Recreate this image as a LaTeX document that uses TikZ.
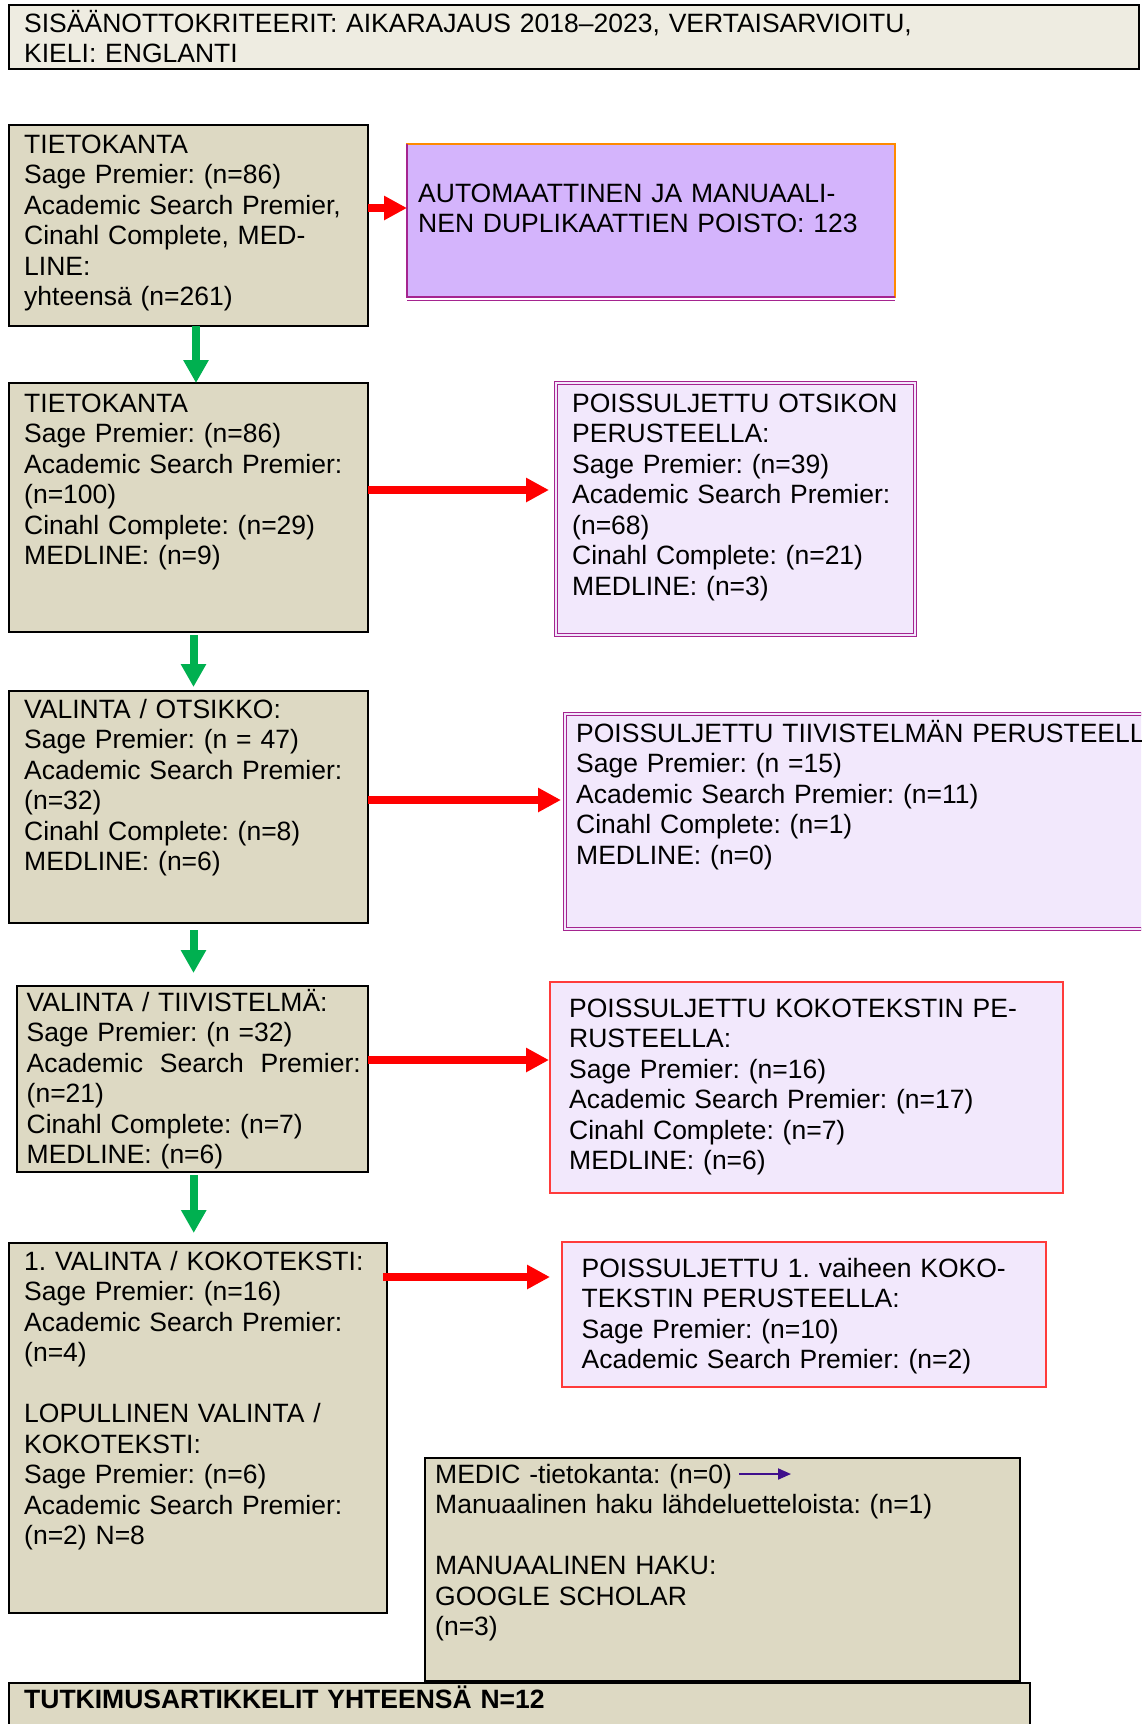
\documentclass[tikz,border=0pt]{standalone}
\usepackage{fontspec}
\setmainfont{Liberation Sans}
\usetikzlibrary{positioning,arrows.meta,calc}
\definecolor{tanfill}{HTML}{DDD9C3}
\definecolor{paper}{HTML}{EEECE1}
\definecolor{lavfill}{HTML}{F2E8FC}
\definecolor{lilac}{HTML}{D4B4FC}
\definecolor{plum}{HTML}{A5248F}
\definecolor{tangerine}{HTML}{FF8A00}
\definecolor{arrred}{HTML}{FF0000}
\definecolor{arrgreen}{HTML}{00B050}
\definecolor{indigo}{HTML}{3F0F8C}
\definecolor{softred}{HTML}{FF3B3B}

\begin{document}
\begin{tikzpicture}[
    x=1pt, y=-1pt,
    box/.style ={
        rectangle,
        anchor=north west,
        inner sep=0pt,
        outer sep=0pt
    },
    tan/.style ={
        box,
        fill=tanfill,
        draw=black,
        line width=2pt
    },
    lav/.style ={
        box,
        fill=lavfill,
        draw=plum,
        double=lavfill,
        double distance=2pt,
        line width=1.3pt
    },
    rdbox/.style ={
        box,
        fill=lavfill,
        draw=softred,
        line width=1.5pt
    },
    txt/.style ={
        anchor=base west,
        inner sep=0pt,
        align=left,
        text width=#1,
        font=\fontsize{26.5}{30.5}\selectfont\frenchspacing
    },
    txt/.default=340pt,
    gr/.style ={
        draw=arrgreen,
        line width=8pt,
        -{Triangle[length=23pt,width=24pt]}
    },
    rd/.style ={
        draw=arrred,
        line width=8pt,
        -{Triangle[length=23pt,width=23pt]}
    }
    ]
    \useasboundingbox (0,0) rectangle (1141,1724);
    \clip (0,0) rectangle (1141,1724);

    \node[tan, fill=paper, minimum width=1130pt, minimum height=64pt] (crit) at (9,5) {};
    \node[txt=1100pt] (crit-t) at ($(crit.north west)+(15,27)$)
        {SISÄÄNOTTOKRITEERIT: AIKARAJAUS 2018–2023, VERTAISARVIOITU,\\KIELI: ENGLANTI};

    \node[tan, minimum width=359pt, minimum height=201pt] (b1) at (9,125) {};
    \node[txt] (b1-t) at ($(b1.north west)+(15,28)$)
        {TIETOKANTA\\Sage Premier: (n=86)\\Academic Search Premier,\\Cinahl Complete, MED-\\LINE:\\yhteensä (n=261)};

    \node[box, fill=lilac, draw=tangerine, line width=2.5pt, minimum width=488pt, minimum height=153pt] (auto) at (407,144) {};
    \draw[plum, line width=2.5pt] (auto.north west) -- (auto.south west) -- (auto.south east);
    \draw[plum, line width=1.3pt] ([yshift=-3.5pt]auto.south west) -- ([yshift=-3.5pt]auto.south east);
    \node[txt=460pt] (auto-t) at ($(auto.north west)+(11,58)$)
        {AUTOMAATTINEN JA MANUAALI-\\NEN DUPLIKAATTIEN POISTO: 123};

    \node[tan, minimum width=359pt, minimum height=249pt] (b2) at (9,383) {};
    \node[txt] (b2-t) at ($(b2.north west)+(15,29)$)
        {TIETOKANTA\\Sage Premier: (n=86)\\Academic Search Premier:\\(n=100)\\Cinahl Complete: (n=29)\\MEDLINE: (n=9)};

    \node[lav, minimum width=359pt, minimum height=252pt] (ex1) at (556,383) {};
    \node[txt] (ex1-t) at ($(ex1.north west)+(16,29)$)
        {POISSULJETTU OTSIKON\\PERUSTEELLA:\\Sage Premier: (n=39)\\Academic Search Premier:\\(n=68)\\Cinahl Complete: (n=21)\\MEDLINE: (n=3)};

    \node[tan, minimum width=359pt, minimum height=232pt] (b3) at (9,691) {};
    \node[txt] (b3-t) at ($(b3.north west)+(15,27)$)
        {VALINTA / OTSIKKO:\\Sage Premier: (n = 47)\\Academic Search Premier:\\(n=32)\\Cinahl Complete: (n=8)\\MEDLINE: (n=6)};

    \node[lav, minimum width=620pt, minimum height=215pt] (ex2) at (565,714) {};
    \node[txt=700pt] (ex2-t) at ($(ex2.north west)+(11,28)$)
        {POISSULJETTU TIIVISTELMÄN PERUSTEELLA:\\Sage Premier: (n =15)\\Academic Search Premier: (n=11)\\Cinahl Complete: (n=1)\\MEDLINE: (n=0)};

    \node[tan, minimum width=351pt, minimum height=186pt] (b4) at (16.5,986) {};
    \node[txt] (b4-t) at ($(b4.north west)+(10,25)$)
        {VALINTA / TIIVISTELMÄ:\\Sage Premier: (n =32)\\Academic\hspace{8pt} Search\hspace{8pt} Premier:\\(n=21)\\Cinahl Complete: (n=7)\\MEDLINE: (n=6)};

    \node[rdbox, minimum width=513pt, minimum height=211pt] (ex3) at (550,982) {};
    \node[txt=460pt] (ex3-t) at ($(ex3.north west)+(19,35)$)
        {POISSULJETTU KOKOTEKSTIN PE-\\RUSTEELLA:\\Sage Premier: (n=16)\\Academic Search Premier: (n=17)\\Cinahl Complete: (n=7)\\MEDLINE: (n=6)};

    \node[tan, minimum width=378pt, minimum height=370pt] (b5) at (9,1243) {};
    \node[txt=360pt] (b5-t) at ($(b5.north west)+(15,27)$)
        {1. VALINTA / KOKOTEKSTI:\\Sage Premier: (n=16)\\Academic Search Premier:\\(n=4)\\[30.5pt]LOPULLINEN VALINTA /\\KOKOTEKSTI:\\Sage Premier: (n=6)\\Academic Search Premier:\\(n=2) N=8};

    \node[rdbox, minimum width=484pt, minimum height=145pt] (ex4) at (562,1242) {};
    \node[txt=450pt] (ex4-t) at ($(ex4.north west)+(19.5,35)$)
        {POISSULJETTU 1. vaiheen KOKO-\\TEKSTIN PERUSTEELLA:\\Sage Premier: (n=10)\\Academic Search Premier: (n=2)};

    \node[tan, minimum width=595pt, minimum height=223pt] (medic) at (425,1458) {};
    \node[txt=570pt] (medic-t) at ($(medic.north west)+(10,25)$)
        {MEDIC -tietokanta: (n=0)\\Manuaalinen haku lähdeluetteloista: (n=1)\\[30.5pt]MANUAALINEN HAKU:\\GOOGLE SCHOLAR\\(n=3)};

    \node[tan, minimum width=1021pt, minimum height=80pt] (total) at (9,1683) {};
    \node[txt=900pt, font=\fontsize{26.5}{30.5}\selectfont\bfseries] (total-t) at ($(total.north west)+(15,25)$)
        {TUTKIMUSARTIKKELIT YHTEENSÄ N=12};

    \coordinate (r1) at ($(auto.north west)+(0,64)$);
    \coordinate (r2) at ($(ex1.north west)+(0,107)$);
    \coordinate (r3) at ($(ex2.north west)+(0,86)$);
    \coordinate (r4) at ($(ex3.north west)+(0,78)$);
    \coordinate (r5) at ($(ex4.north west)+(0,35)$);
    \coordinate (m1) at ($(medic.north west)+(314,16)$);
    \coordinate (m2) at ($(medic.north west)+(366,16)$);

    \draw[gr] ([xshift=7.5pt]b1.south) -- ([xshift=7.5pt]b1.south |- b2.north);
    \draw[gr, shorten <=3pt, shorten >=4pt] ([xshift=5pt]b2.south) -- ([xshift=5pt]b2.south |- b3.north);
    \draw[gr, shorten <=7pt, shorten >=13pt] ([xshift=5pt]b3.south) -- ([xshift=5pt]b3.south |- b4.north);
    \draw[gr, shorten <=3pt, shorten >=10pt] ([xshift=1.75pt]b4.south) -- ([xshift=1.75pt]b4.south |- b5.north);

    \draw[rd] (b1.east |- r1) -- (r1);
    \draw[rd, shorten >=7pt] (b2.east |- r2) -- (r2);
    \draw[rd, shorten >=4pt] (b3.east |- r3) -- (r3);
    \draw[rd, shorten >=1pt] (b4.east |- r4) -- (r4);
    \draw[rd, shorten <=-4pt, shorten >=12pt] (b5.east |- r5) -- (r5);

    \draw[indigo, line width=2pt, -{Triangle[length=13pt,width=11pt]}] (m1) -- (m2);
\end{tikzpicture}
\end{document}
